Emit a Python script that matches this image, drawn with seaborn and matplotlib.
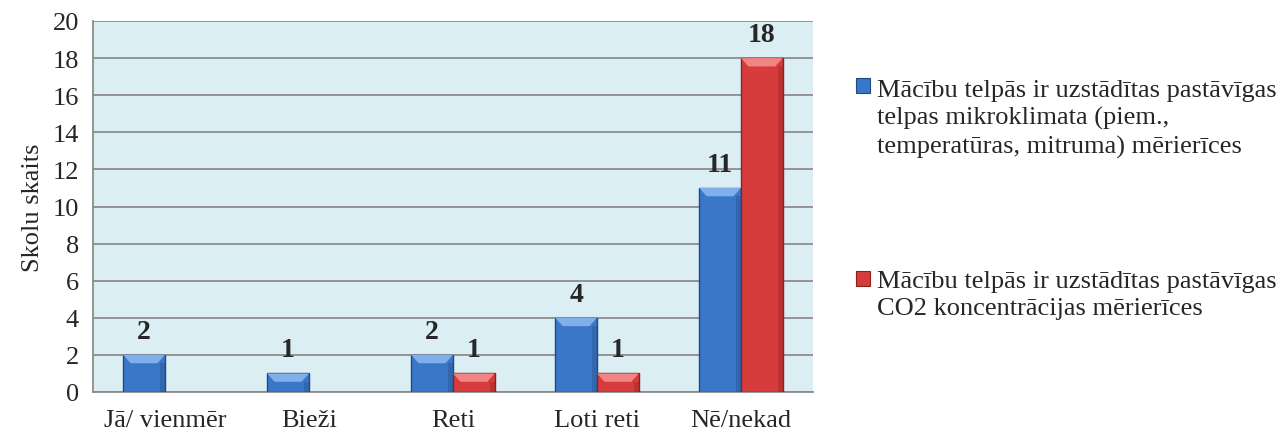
import matplotlib
matplotlib.use("Agg")
import matplotlib.pyplot as plt
from matplotlib.patches import Rectangle, Polygon
import pandas as pd
import seaborn as sns

# data
categories = ["Jā/ vienmēr", "Bieži", "Reti", "Loti reti", "Nē/nekad"]
series_names = [
    "Mācību telpās ir uzstādītas pastāvīgas\ntelpas mikroklimata (piem.,\ntemperatūras, mitruma) mērierīces",
    "Mācību telpās ir uzstādītas pastāvīgas\nCO2 koncentrācijas mērierīces",
]
microclimate = [2, 1, 2, 4, 11]
co2 = [0, 0, 1, 1, 18]
y_ticks = list(range(0, 21, 2))

colors = ["#3B77C8", "#D63C3C"]
dark = ["#1E4A85", "#8A2020"]
light = ["#7FB0EC", "#F08585"]

df = pd.DataFrame({
    "kat": categories * 2,
    "serija": [series_names[0]] * 5 + [series_names[1]] * 5,
    "skaits": microclimate + co2,
})

sns.set_style("white")
plt.rcParams["font.family"] = ["Liberation Serif", "DejaVu Serif"]

fig = plt.figure(figsize=(12.81, 4.35), dpi=100)
ax = fig.add_axes([93 / 1281, 1 - 393 / 435, 720 / 1281, 371 / 435])
ax.set_facecolor("#DBEEF3")

sns.barplot(data=df, x="kat", y="skaits", hue="serija", palette=colors,
            saturation=1, width=0.58, gap=0, ax=ax, legend=False, zorder=3)

# bevel look + value labels
n = len(categories)
for i, p in enumerate(ax.patches[:2 * n]):
    s = i // n
    h = p.get_height()
    if h <= 0:
        p.set_visible(False)
        continue
    p.set_edgecolor(dark[s])
    p.set_linewidth(1.0)
    x0, w = p.get_x(), p.get_width()
    bh = min(0.45, h / 2)
    bw = w * 0.18
    ax.add_patch(Polygon([(x0, h), (x0 + w, h), (x0 + w - bw, h - bh), (x0 + bw, h - bh)],
                         closed=True, facecolor=light[s], edgecolor="none", zorder=4))
    ax.add_patch(Rectangle((x0 + w - bw * 0.6, 0), bw * 0.6, h - bh, facecolor=dark[s],
                           alpha=0.35, edgecolor="none", zorder=4))
    ax.text(x0 + w / 2, h + 0.6, f"{int(h)}", ha="center", va="bottom",
            fontsize=20, fontweight="bold", zorder=5)

ax.set_ylim(0, 20)
ax.set_xlim(-0.5, n - 0.5)
ax.set_yticks(y_ticks)
ax.yaxis.grid(True, color="#8C8C8C", linewidth=1.3, zorder=0)
ax.set_axisbelow(True)
for side in ["top", "right"]:
    ax.spines[side].set_visible(False)
for side in ["left", "bottom"]:
    ax.spines[side].set_color("#8C8C8C")
    ax.spines[side].set_linewidth(1.3)
ax.set_xticks([i - 0.5 for i in range(n + 1)], minor=True)
ax.tick_params(axis="x", which="major", length=0, labelsize=19, pad=12)
ax.tick_params(axis="x", which="minor", length=7, color="#8C8C8C", width=1.3)
ax.tick_params(axis="y", length=7, color="#8C8C8C", width=1.3, labelsize=19, pad=3)
ax.set_xlabel("")
ax.set_ylabel("Skolu skaits", fontsize=19, labelpad=6)

# legend drawn by hand to follow the reference layout
leg_y = [1 - 80 / 435, 1 - 271 / 435]
mark_y = [1 - 94 / 435, 1 - 287 / 435]
for s in range(2):
    fig.text(877 / 1281, leg_y[s], series_names[s], ha="left", va="top",
             fontsize=19, linespacing=1.3)
    fig.patches.append(Rectangle((856 / 1281, mark_y[s]), 14 / 1281, 15 / 435,
                                 transform=fig.transFigure, facecolor=colors[s],
                                 edgecolor=dark[s], linewidth=0.8))

fig.savefig("out.png", dpi=100)
